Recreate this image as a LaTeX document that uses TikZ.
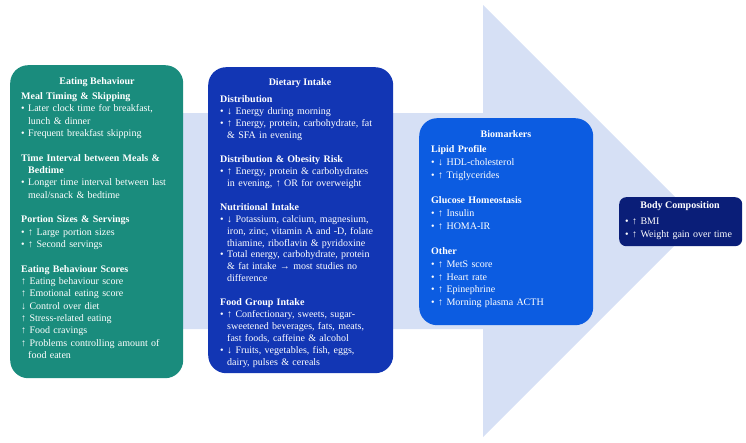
\documentclass[tikz,border=0pt]{standalone}
\usepackage{fontspec}
\setmainfont{Liberation Serif}
\definecolor{arrowc}{RGB}{214,224,245}
\definecolor{eatc}{RGB}{26,140,125}
\definecolor{dietc}{RGB}{18,54,180}
\definecolor{bioc}{RGB}{12,92,225}
\definecolor{bodyc}{RGB}{10,30,120}
\newcommand{\myb}{\makebox[7pt][l]{•}}
\newcommand{\myi}{\hspace*{7pt}}
\tikzset{
  panel/.style={anchor=north west, inner sep=0pt, draw=none},
  ptitle/.style={text=white, font=\fontsize{10}{12}\selectfont\bfseries, inner sep=0pt},
  pbody/.style={anchor=north west, inner sep=0pt, text=white, align=left, text width=#1},
}
\begin{document}
\begin{tikzpicture}[x=1pt,y=-1pt]
\useasboundingbox (0,0) rectangle (746,442);
% big arrow
\fill[arrowc] (100,113) -- (483,113) -- (483,5) -- (699,221) -- (483,437) -- (483,329) -- (100,329) -- cycle;

% Eating behaviour
\node[panel, fill=eatc, rounded corners=18pt, minimum width=173pt, minimum height=313pt] (eat) at (10,65) {};
\node[ptitle] (eatT) at (97,82.5) {Eating Behaviour};
\node[pbody=165pt, font=\fontsize{10}{12.33}\selectfont] (eatB) at (21,92.5) {%
\textbf{Meal Timing \& Skipping}\\
\myb Later clock time for breakfast,\\
\myi lunch \& dinner\\
\myb Frequent breakfast skipping\\[12.33pt]
\textbf{Time Interval between Meals \&}\\
\myi\textbf{Bedtime}\\
\myb Longer time interval between last\\
\myi meal/snack \& bedtime\\[12.33pt]
\textbf{Portion Sizes \& Servings}\\
\myb ↑ Large portion sizes\\
\myb ↑ Second servings\\[12.33pt]
\textbf{Eating Behaviour Scores}\\
↑ Eating behaviour score\\
↑ Emotional eating score\\
↓ Control over diet\\
↑ Stress-related eating\\
↑ Food cravings\\
↑ Problems controlling amount of\\
\myi food eaten};

% Dietary intake
\node[panel, fill=dietc, rounded corners=18pt, minimum width=185pt, minimum height=306pt] (diet) at (208,67) {};
\node[ptitle] (dietT) at (300,83) {Dietary Intake};
\node[pbody=172pt, font=\fontsize{10}{11.95}\selectfont] (dietB) at (220,95.5) {%
\textbf{Distribution}\\
\myb ↓ Energy during morning\\
\myb ↑ Energy, protein, carbohydrate, fat\\
\myi \& SFA in evening\\[11.95pt]
\textbf{Distribution \& Obesity Risk}\\
\myb ↑ Energy, protein \& carbohydrates\\
\myi in evening, ↑ OR for overweight\\[11.95pt]
\textbf{Nutritional Intake}\\
\myb ↓ Potassium, calcium, magnesium,\\
\myi iron, zinc, vitamin A and -D, folate\\
\myi thiamine, riboflavin \& pyridoxine\\
\myb Total energy, carbohydrate, protein\\
\myi \& fat intake → most studies no\\
\myi difference\\[11.95pt]
\textbf{Food Group Intake}\\
\myb ↑ Confectionary, sweets, sugar-\\
\myi sweetened beverages, fats, meats,\\
\myi fast foods, caffeine \& alcohol\\
\myb ↓ Fruits, vegetables, fish, eggs,\\
\myi dairy, pulses \& cereals};

% Biomarkers
\node[panel, fill=bioc, rounded corners=18pt, minimum width=174pt, minimum height=207pt] (bio) at (419,118) {};
\node[ptitle] (bioT) at (506,134) {Biomarkers};
\node[pbody=160pt, font=\fontsize{10}{12.75}\selectfont] (bioB) at (431,145.5) {%
\textbf{Lipid Profile}\\
\myb ↓ HDL-cholesterol\\
\myb ↑ Triglycerides\\[12.75pt]
\textbf{Glucose Homeostasis}\\
\myb ↑ Insulin\\
\myb ↑ HOMA-IR\\[12.75pt]
\textbf{Other}\\
\myb ↑ MetS score\\
\myb ↑ Heart rate\\
\myb ↑ Epinephrine\\
\myb ↑ Morning plasma ACTH};

% Body composition
\node[panel, fill=bodyc, rounded corners=7pt, minimum width=123pt, minimum height=49pt] (body) at (619,197) {};
\node[ptitle] (bodyT) at (680,206) {Body Composition};
\node[pbody=115pt, font=\fontsize{10}{13}\selectfont] (bodyB) at (625,217.5) {%
\myb ↑ BMI\\
\myb ↑ Weight gain over time};
\end{tikzpicture}
\end{document}
